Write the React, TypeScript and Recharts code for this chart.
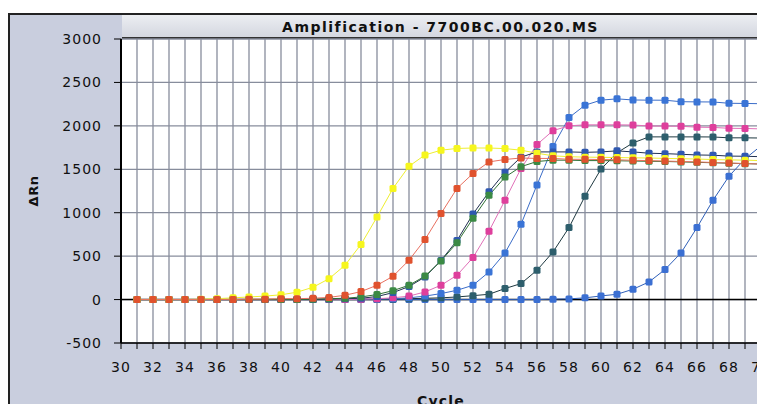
import { LineChart, Line, XAxis, YAxis, CartesianGrid, ReferenceLine } from "recharts";

// cycles 31..70
const cycles = [31, 32, 33, 34, 35, 36, 37, 38, 39, 40, 41, 42, 43, 44, 45, 46, 47, 48, 49, 50, 51, 52, 53, 54, 55, 56, 57, 58, 59, 60, 61, 62, 63, 64, 65, 66, 67, 68, 69, 70];

const yellow = [0, 0, 0, 0, 5, 10, 20, 30, 40, 55, 85, 142, 240, 395, 635, 950, 1280, 1535, 1665, 1720, 1740, 1745, 1745, 1738, 1720, 1685, 1655, 1645, 1640, 1638, 1635, 1632, 1630, 1625, 1622, 1618, 1612, 1608, 1605, 1600];
const orange = [0, 0, 0, 0, 0, 0, 0, 5, 5, 10, 10, 15, 25, 50, 92, 165, 268, 453, 691, 990, 1280, 1452, 1585, 1613, 1630, 1625, 1625, 1615, 1615, 1612, 1610, 1603, 1600, 1595, 1590, 1585, 1578, 1572, 1566, 1560];
const green = [0, 0, 0, 0, 0, 0, 0, 0, 0, 0, 0, 5, 10, 15, 30, 58, 103, 165, 270, 445, 655, 935, 1200, 1410, 1530, 1590, 1605, 1605, 1600, 1600, 1598, 1595, 1592, 1590, 1585, 1580, 1575, 1570, 1565, 1560];
const slate = [0, 0, 0, 0, 0, 0, 0, 0, 0, 0, 0, 0, 5, 10, 15, 35, 80, 150, 260, 450, 680, 985, 1240, 1465, 1640, 1700, 1700, 1700, 1695, 1700, 1712, 1700, 1685, 1680, 1673, 1665, 1662, 1652, 1650, 1645];
const pink = [0, 0, 0, 0, 0, 0, 0, 0, 0, 0, 0, 0, 0, 0, 5, 10, 20, 40, 88, 165, 280, 484, 787, 1144, 1509, 1785, 1945, 2000, 2012, 2012, 2012, 2010, 1998, 1997, 1995, 1985, 1982, 1972, 1970, 1965];
const blue = [0, 0, 0, 0, 0, 0, 0, 0, 0, 0, 0, 0, 0, 0, 5, 5, 10, 20, 40, 69, 107, 165, 318, 537, 867, 1320, 1762, 2095, 2238, 2296, 2311, 2298, 2296, 2295, 2278, 2276, 2275, 2260, 2258, 2255];
const teal = [0, 0, 0, 0, 0, 0, 0, 0, 0, 0, 0, 0, 0, 0, 0, 0, 5, 10, 15, 20, 30, 45, 61, 127, 184, 338, 548, 829, 1190, 1503, 1690, 1804, 1873, 1873, 1873, 1873, 1872, 1862, 1862, 1860];
const late = [0, 0, 0, 0, 0, 0, 0, 0, 0, 0, 0, 0, 0, 0, 0, 0, 0, 0, 0, 0, 0, 0, 0, 0, 0, 0, 5, 8, 20, 42, 61, 119, 203, 346, 537, 829, 1144, 1420, 1620, 1770];

const xTicks = [30, 31, 32, 33, 34, 35, 36, 37, 38, 39, 40, 41, 42, 43, 44, 45, 46, 47, 48, 49, 50, 51, 52, 53, 54, 55, 56, 57, 58, 59, 60, 61, 62, 63, 64, 65, 66, 67, 68, 69, 70];
const yTicks = [-500, 0, 500, 1000, 1500, 2000, 2500, 3000];

// drawn back to front
const SERIES = [
  { key: "late", values: late, fill: "#3b6fd2", line: "#2f5fb8" },
  { key: "teal", values: teal, fill: "#2d5e6c", line: "#1e3840" },
  { key: "blue", values: blue, fill: "#3a74d6", line: "#3a6cc8" },
  { key: "pink", values: pink, fill: "#de3f9c", line: "#e070b8" },
  { key: "slate", values: slate, fill: "#2f58b0", line: "#1f2f50" },
  { key: "green", values: green, fill: "#3b8a44", line: "#2f7035" },
  { key: "yellow", values: yellow, fill: "#f6f61e", line: "#eeee30" },
  { key: "orange", values: orange, fill: "#e0522e", line: "#e87060" },
];

const data = cycles.map((c, i) => {
  const row: Record<string, number> = { cycle: c };
  SERIES.forEach((s) => { row[s.key] = s.values[i]; });
  return row;
});

const FONT = "'DejaVu Sans', Verdana, sans-serif";
const GRID = "#878d9c";

const square = (fill: string) => (p: any) => (
  <rect key={p.key ?? `${p.index}`} x={p.cx - 3.5} y={p.cy - 3.5} width={7} height={7} rx={1.5} fill={fill} />
);

export default function App() {
  return (
    <div style={{ position: "relative", width: 757, height: 404, overflow: "hidden", background: "#fff" }}>
      <style>{"body{margin:0}"}</style>
      <div style={{ position: "absolute", left: 8, top: 13, width: 800, height: 420, background: "#c9cede", borderLeft: "2px solid #222", borderTop: "2px solid #222" }} />
      <div style={{ position: "absolute", left: 122, top: 15, width: 700, height: 22, background: "linear-gradient(#eceef2, #d4d7e0)", borderBottom: "2px solid #333" }} />
      <div style={{ position: "absolute", left: 122, top: 15, width: 637, height: 22, lineHeight: "24px", textAlign: "center", fontFamily: FONT, fontWeight: "bold", fontSize: 14, letterSpacing: 1.5, color: "#111" }}>
        Amplification - 7700BC.00.020.MS
      </div>
      <div style={{ position: "absolute", left: 0, top: 0 }}>
        <LineChart width={781} height={404} data={data} margin={{ top: 39, right: 20, bottom: 0, left: 0 }}>
          <CartesianGrid stroke={GRID} strokeWidth={1.3} fill="#fff" />
          <XAxis
            type="number"
            dataKey="cycle"
            domain={[30, 70]}
            ticks={xTicks}
            interval={0}
            height={61}
            tickSize={6}
            tickMargin={13}
            tickFormatter={(v: number) => (v % 2 === 0 ? String(v) : "")}
            axisLine={{ stroke: "#000", strokeWidth: 1.5 }}
            tickLine={{ stroke: "#000" }}
            tick={{ fill: "#111", fontSize: 14, fontFamily: FONT, letterSpacing: 1 }}
          />
          <YAxis
            type="number"
            domain={[-500, 3000]}
            ticks={yTicks}
            width={121}
            tickSize={7}
            tickMargin={12}
            axisLine={{ stroke: "#000", strokeWidth: 2 }}
            tickLine={{ stroke: "#000" }}
            tick={{ fill: "#111", fontSize: 14, fontFamily: FONT, letterSpacing: 1 }}
          />
          <ReferenceLine y={0} stroke="#000" strokeWidth={1.5} />
          {SERIES.map((s) => (
            <Line
              key={s.key}
              dataKey={s.key}
              type="linear"
              stroke={s.line}
              strokeWidth={1}
              dot={square(s.fill)}
              activeDot={false}
              isAnimationActive={false}
            />
          ))}
        </LineChart>
      </div>
      <div style={{ position: "absolute", left: 33, top: 191, transform: "translate(-50%, -50%) rotate(-90deg)", fontFamily: FONT, fontWeight: "bold", fontSize: 13, letterSpacing: 0.5, color: "#111", whiteSpace: "nowrap" }}>
        ΔRn
      </div>
      <div style={{ position: "absolute", left: 441, top: 393, transform: "translateX(-50%)", fontFamily: FONT, fontWeight: "bold", fontSize: 14, letterSpacing: 1.2, color: "#111", whiteSpace: "nowrap" }}>
        Cycle
      </div>
    </div>
  );
}
